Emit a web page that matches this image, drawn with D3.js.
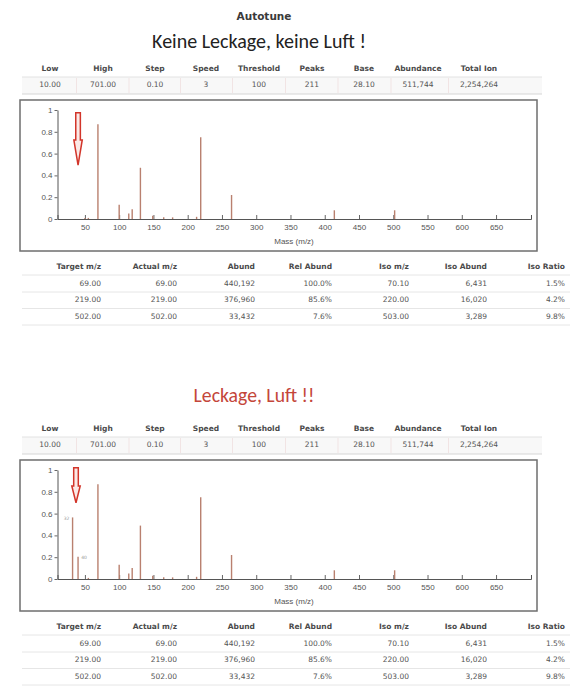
<!DOCTYPE html>
<html>
<head>
<meta charset="utf-8">
<script src="https://cdn.jsdelivr.net/npm/d3@7"></script>
<style>
  body { margin: 0; background: #fff; }
  svg { display: block; }
  text { font-family: "DejaVu Sans", Verdana, sans-serif; }
</style>
</head>
<body>
<svg id="chart" width="580" height="693"></svg>
<script>
let width = 580
let height = 693

// run parameters (same for both scans)
const headerLabels = ['Low', 'High', 'Step', 'Speed', 'Threshold', 'Peaks', 'Base', 'Abundance', 'Total Ion'];
const headerValues = ['10.00', '701.00', '0.10', '3', '100', '211', '28.10', '511,744', '2,254,264'];

// tune ion table
const tableCols = ['Target m/z', 'Actual m/z', 'Abund', 'Rel Abund', 'Iso m/z', 'Iso Abund', 'Iso Ratio'];
const tableRows = [
    ['69.00', '69.00', '440,192', '100.0%', '70.10', '6,431', '1.5%'],
    ['219.00', '219.00', '376,960', '85.6%', '220.00', '16,020', '4.2%'],
    ['502.00', '502.00', '33,432', '7.6%', '503.00', '3,289', '9.8%']
];

// spectra (m/z, relative abundance)
const massTop  = [50, 55, 69, 100, 114, 119, 131, 149, 165, 178, 213, 219, 264, 414, 502];
const abundTop = [0.01, 0.01, 0.87, 0.13, 0.05, 0.09, 0.47, 0.03, 0.015, 0.015, 0.02, 0.75, 0.22, 0.08, 0.08];

const massBottom  = [32, 40, 55, 69, 100, 114, 119, 131, 149, 165, 178, 213, 219, 264, 414, 502];
const abundBottom = [0.565, 0.205, 0.01, 0.87, 0.13, 0.05, 0.10, 0.49, 0.03, 0.015, 0.015, 0.02, 0.75, 0.22, 0.08, 0.08];
const airMass = [32, 40];

const xTicks = [50, 100, 150, 200, 250, 300, 350, 400, 450, 500, 550, 600, 650];
const yTicks = [0, 0.2, 0.4, 0.6, 0.8, 1];

// red hint arrows (m/z, top, tip)
const arrowTop = {mz: 40, from: 0.975, to: 0.495};
const arrowBottom = {mz: 37, from: 1.02, to: 0.70};

const headerX = [50, 103, 155, 206, 259, 312, 364, 418, 479];
const tableX = [101, 177, 255, 332, 409, 487, 565];

const peakColor = '#b9806f';

const svg = d3.select('#chart');
svg.append('rect').attr('width', width).attr('height', height).attr('fill', '#fff');

svg.append('text')
    .attr('x', 264).attr('y', 17)
    .attr('text-anchor', 'middle').attr('dominant-baseline', 'middle')
    .attr('font-size', 10.5).attr('font-weight', 'bold').attr('fill', '#3a3a3a')
    .text('Autotune');

const fitTitle = (sel, w) => {
    let len = sel.node().getComputedTextLength();
    let fs = parseFloat(sel.attr('font-size'));
    sel.attr('font-size', fs * w / len);
}

const drawPanel = (p) => {
    let g = svg.append('g');

    // title
    let t = g.append('text')
        .attr('x', p.titleX).attr('y', p.titleY)
        .attr('text-anchor', 'middle').attr('dominant-baseline', 'middle')
        .style('font-family', 'Carlito, "Liberation Sans Narrow", "Open Sans", sans-serif')
        .attr('font-size', 19).attr('fill', p.titleColor)
        .text(p.title);
    fitTitle(t, p.titleW);

    // run header
    g.append('rect').attr('x', 22).attr('y', p.headY + 8).attr('width', 520).attr('height', 17).attr('fill', '#f8f8f8');
    g.append('line').attr('x1', 22).attr('x2', 542).attr('y1', p.headY + 8).attr('y2', p.headY + 8).attr('stroke', '#e2e2e2');
    g.append('line').attr('x1', 22).attr('x2', 542).attr('y1', p.headY + 25).attr('y2', p.headY + 25).attr('stroke', '#d6d6d6');
    headerX.slice(0, -1).forEach((cx, i) => {
        let mid = (cx + headerX[i + 1]) / 2;
        g.append('line').attr('x1', mid).attr('x2', mid).attr('y1', p.headY + 9).attr('y2', p.headY + 24).attr('stroke', '#f1e4e4');
    });
    g.selectAll('text.hlab').data(headerLabels).join('text')
        .attr('class', 'hlab')
        .attr('x', (d, i) => headerX[i]).attr('y', p.headY)
        .attr('text-anchor', 'middle').attr('dominant-baseline', 'middle')
        .attr('font-size', 7.5).attr('font-weight', 'bold').attr('fill', '#4a4a4a')
        .text(d => d);
    g.selectAll('text.hval').data(headerValues).join('text')
        .attr('class', 'hval')
        .attr('x', (d, i) => headerX[i]).attr('y', p.headY + 16)
        .attr('text-anchor', 'middle').attr('dominant-baseline', 'middle')
        .attr('font-size', 7.5).attr('fill', '#555')
        .text(d => d);

    // chart frame
    let top = p.boxY;
    g.append('rect').attr('x', 20).attr('y', top).attr('width', 517).attr('height', 151)
        .attr('fill', '#fff').attr('stroke', '#6e6e6e').attr('stroke-width', 1.5);

    let x = d3.scaleLinear().domain([10, 701]).range([57.5, 531]);
    let y = d3.scaleLinear().domain([0, 1]).range([top + 119, top + 10]);

    let xAxis = g.append('g')
        .attr('transform', `translate(0,${top + 119})`)
        .call(d3.axisBottom(x).tickValues(xTicks).tickSizeInner(-4).tickSizeOuter(-4).tickPadding(5));
    let yAxis = g.append('g')
        .attr('transform', 'translate(57.5,0)')
        .call(d3.axisLeft(y).tickValues(yTicks).tickSize(3).tickSizeOuter(0).tickFormat(d => d).tickPadding(2));
    [xAxis, yAxis].forEach(a => {
        a.select('.domain').attr('stroke', '#555');
        a.selectAll('.tick line').attr('stroke', '#666');
        a.selectAll('.tick text').attr('fill', '#555').attr('font-size', 8)
            .style('font-family', '"Liberation Sans", Arial, sans-serif');
    });
    // gridless, axis on top of nothing; peaks
    g.append('g').selectAll('line').data(p.mass).join('line')
        .attr('x1', d => x(d)).attr('x2', d => x(d))
        .attr('y1', y(0)).attr('y2', (d, i) => y(p.abund[i]))
        .attr('stroke', peakColor).attr('stroke-width', 1.4);

    // tiny peak labels (air peaks)
    if (p.labels) {
        p.labels.forEach((m, k) => {
            let i = p.mass.indexOf(m);
            let lx = k == 0 ? x(m) - 6 : x(m) + 6;
            g.append('text')
                .attr('x', lx).attr('y', y(p.abund[i]) + 1)
                .attr('text-anchor', 'middle').attr('dominant-baseline', 'middle')
                .attr('font-size', 4.5).attr('fill', '#999')
                .text(m);
        });
    }

    g.append('text')
        .attr('x', 294).attr('y', top + 141.5)
        .attr('text-anchor', 'middle').attr('dominant-baseline', 'middle')
        .attr('font-size', 8).attr('fill', '#555')
        .style('font-family', '"Liberation Sans", Arial, sans-serif')
        .text('Mass (m/z)');

    // hint arrow
    let a = p.arrow;
    let ax = x(a.mz), y0 = y(a.from), y1 = y(a.to);
    let headH = (y1 - y0) * 0.48, sw = 2.3, hw = 4.2;
    let path = `M${ax - sw},${y0} L${ax + sw},${y0} L${ax + sw},${y1 - headH} L${ax + hw},${y1 - headH}
        L${ax},${y1} L${ax - hw},${y1 - headH} L${ax - sw},${y1 - headH} Z`;
    g.append('path').attr('d', path)
        .attr('fill', '#fbe9e6').attr('stroke', '#d2352a').attr('stroke-width', 1.5)
        .attr('stroke-linejoin', 'miter');

    // tune table
    let ty = p.tableY;
    g.selectAll('text.tcol').data(tableCols).join('text')
        .attr('class', 'tcol')
        .attr('x', (d, i) => tableX[i]).attr('y', ty)
        .attr('text-anchor', 'end').attr('dominant-baseline', 'middle')
        .attr('font-size', 7.5).attr('font-weight', 'bold').attr('fill', '#4a4a4a')
        .text(d => d);
    [8, 25, 41.5, 58].forEach(off => {
        g.append('line').attr('x1', 22).attr('x2', 570).attr('y1', ty + off).attr('y2', ty + off)
            .attr('stroke', '#e6e6e6');
    });
    tableRows.forEach((row, r) => {
        g.selectAll('text.trow' + r).data(row).join('text')
            .attr('class', 'trow' + r)
            .attr('x', (d, i) => tableX[i]).attr('y', ty + 16.7 * (r + 1))
            .attr('text-anchor', 'end').attr('dominant-baseline', 'middle')
            .attr('font-size', 7.5).attr('fill', '#555')
            .text(d => d);
    });
}

drawPanel({
    title: 'Keine Leckage, keine Luft !', titleX: 259, titleY: 43, titleW: 214, titleColor: '#222',
    headY: 69, boxY: 100, tableY: 267,
    mass: massTop, abund: abundTop, arrow: arrowTop
});
drawPanel({
    title: 'Leckage, Luft !!', titleX: 254, titleY: 397, titleW: 121, titleColor: '#c4463a',
    headY: 429, boxY: 460, tableY: 627,
    mass: massBottom, abund: abundBottom, arrow: arrowBottom, labels: airMass
});
</script>
</body>
</html>
